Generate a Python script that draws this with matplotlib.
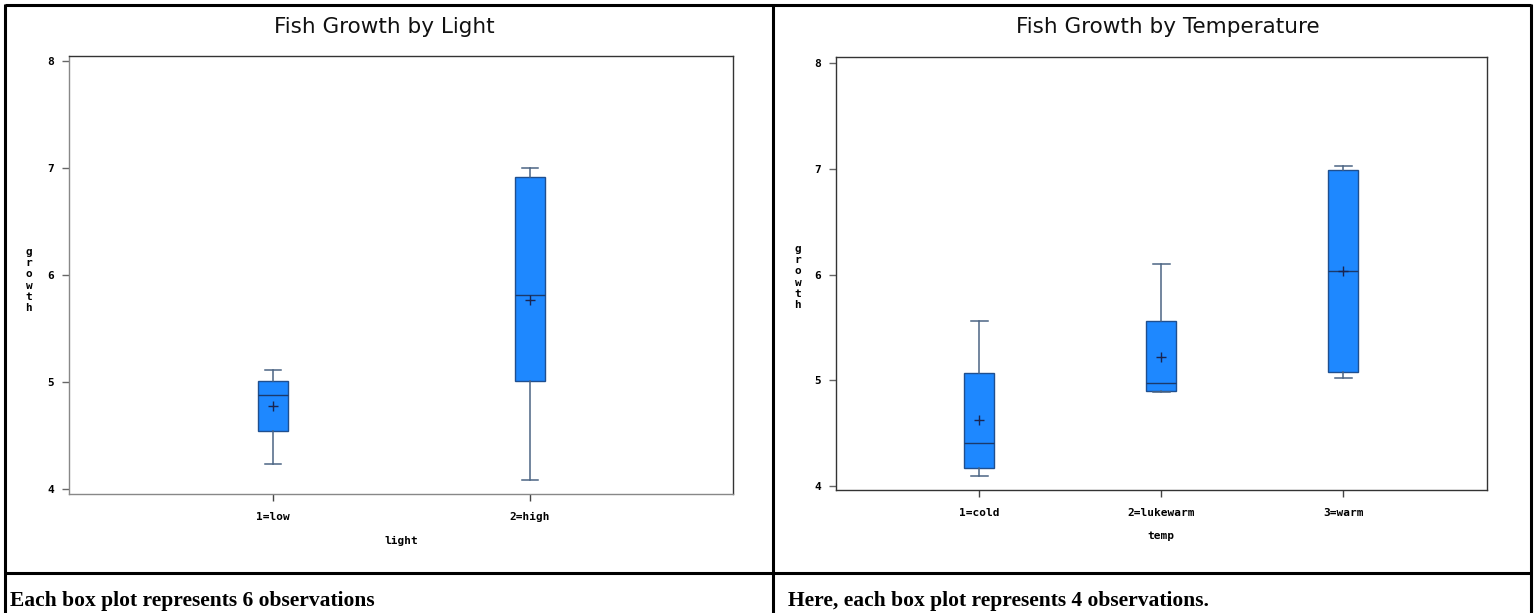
import matplotlib

matplotlib.use("Agg")
import matplotlib.pyplot as plt
from matplotlib.lines import Line2D

W, H = 1538, 613

# fish growth by light (6 obs each)
LIGHT_LABELS = ["1=low", "2=high"]
LIGHT_WHISLO = [4.23, 4.08]
LIGHT_Q1 = [4.54, 5.01]
LIGHT_MED = [4.88, 5.81]
LIGHT_MEAN = [4.78, 5.77]
LIGHT_Q3 = [5.01, 6.92]
LIGHT_WHISHI = [5.11, 7.00]

# fish growth by temperature (4 obs each)
TEMP_LABELS = ["1=cold", "2=lukewarm", "3=warm"]
TEMP_WHISLO = [4.09, 4.89, 5.02]
TEMP_Q1 = [4.17, 4.90, 5.08]
TEMP_MED = [4.41, 4.97, 6.03]
TEMP_MEAN = [4.62, 5.22, 6.03]
TEMP_Q3 = [5.07, 5.56, 6.99]
TEMP_WHISHI = [5.56, 6.10, 7.03]

Y_TICKS = [4, 5, 6, 7, 8]

BOX_FILL = "#1E88FF"
BOX_EDGE = "#1F4F8F"
WHISK = "#4B6584"
MED = "#1B3A6B"
MONO = ["DejaVu Sans Mono"]


def px_rect(x0, y0, x1, y1):
    # pixel box (from top-left) -> figure fraction rect
    return [x0 / W, (H - y1) / H, (x1 - x0) / W, (y1 - y0) / H]


def fx(x):
    return x / W


def fy(y):
    return (H - y) / H


def make_stats(whislo, q1, med, mean, q3, whishi):
    return [
        {"whislo": a, "q1": b, "med": c, "mean": d, "q3": e, "whishi": f, "fliers": []}
        for a, b, c, d, e, f in zip(whislo, q1, med, mean, q3, whishi)
    ]


def draw_panel(fig, rect, stats, labels, xlim, ylim, width, capw, spine_gray):
    ax = fig.add_axes(px_rect(*rect))
    pos = list(range(1, len(labels) + 1))
    ax.bxp(
        stats,
        positions=pos,
        widths=width,
        capwidths=capw,
        patch_artist=True,
        showmeans=True,
        showfliers=False,
        boxprops=dict(facecolor=BOX_FILL, edgecolor=BOX_EDGE, linewidth=1.0),
        whiskerprops=dict(color=WHISK, linewidth=1.1),
        capprops=dict(color=WHISK, linewidth=1.1),
        medianprops=dict(color=MED, linewidth=1.0),
        meanprops=dict(marker="+", markeredgecolor="#1A2550", markersize=7, markeredgewidth=1.0),
    )
    ax.set_xlim(*xlim)
    ax.set_ylim(*ylim)
    ax.set_yticks(Y_TICKS)
    ax.set_xticks(pos)
    ax.set_xticklabels(labels)
    ax.tick_params(axis="y", direction="out", length=5, width=1, color="#666666", pad=6)
    ax.tick_params(axis="x", direction="out", length=5, width=1, color="#444444", pad=8)
    for lbl in ax.get_yticklabels() + ax.get_xticklabels():
        lbl.set_family(MONO)
        lbl.set_fontweight("bold")
        lbl.set_fontsize(8)
    for side in ["top", "right", "left", "bottom"]:
        ax.spines[side].set_linewidth(1.0)
        ax.spines[side].set_color("#333333")
    if spine_gray:
        ax.spines["left"].set_color("#888888")
        ax.spines["bottom"].set_color("#888888")
    return ax


fig = plt.figure(figsize=(W / 100, H / 100), dpi=100)

light_stats = make_stats(LIGHT_WHISLO, LIGHT_Q1, LIGHT_MED, LIGHT_MEAN, LIGHT_Q3, LIGHT_WHISHI)
draw_panel(fig, (69, 56, 733, 494), light_stats, LIGHT_LABELS, (0.206, 2.79), (3.953, 8.047), 0.117, 0.062, True)

temp_stats = make_stats(TEMP_WHISLO, TEMP_Q1, TEMP_MED, TEMP_MEAN, TEMP_Q3, TEMP_WHISHI)
draw_panel(fig, (836, 57, 1487, 490), temp_stats, TEMP_LABELS, (0.214, 3.79), (3.962, 8.057), 0.165, 0.093, False)

# titles, axis labels
title_kw = dict(ha="center", va="center", fontsize=15.5, family=["DejaVu Sans"], color="#111111")
fig.text(fx(384), fy(27), "Fish Growth by Light", **title_kw)
fig.text(fx(1168), fy(27), "Fish Growth by Temperature", **title_kw)

lab_kw = dict(ha="center", va="center", fontsize=8, family=MONO, fontweight="bold")
fig.text(fx(401), fy(541), "light", **lab_kw)
fig.text(fx(1161), fy(536), "temp", **lab_kw)
fig.text(fx(29), fy(280), "g\nr\no\nw\nt\nh", linespacing=1.15, **lab_kw)
fig.text(fx(798), fy(277), "g\nr\no\nw\nt\nh", linespacing=1.15, **lab_kw)

# captions in the lower table row
cap_kw = dict(ha="left", va="baseline", fontsize=15.5, family=["Liberation Serif"], fontweight="bold")
fig.text(fx(10), fy(606), "Each box plot represents 6 observations", **cap_kw)
fig.text(fx(788), fy(606), "Here, each box plot represents 4 observations.", **cap_kw)

# table frame
border = dict(color="black", linewidth=2.2, solid_capstyle="butt")
for xs, ys in [
    ([5, 1531], [5, 5]),
    ([5, 1531], [573, 573]),
    ([5, 5], [4, 613]),
    ([773, 773], [4, 613]),
    ([1531, 1531], [4, 613]),
]:
    fig.add_artist(Line2D([fx(x) for x in xs], [fy(y) for y in ys], **border))

fig.savefig("out.png", dpi=100)
